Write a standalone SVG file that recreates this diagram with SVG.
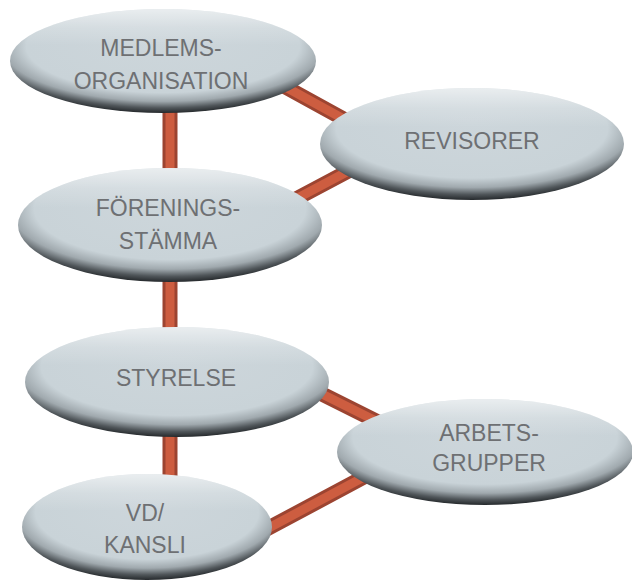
<svg xmlns="http://www.w3.org/2000/svg" width="632" height="581" viewBox="0 0 632 581">
<defs>
<radialGradient id="body" cx="0.5" cy="0.38" r="0.62" fx="0.5" fy="0.3">
<stop offset="0" stop-color="#cdd6db"/>
<stop offset="0.72" stop-color="#c9d3d8"/>
<stop offset="0.84" stop-color="#a0a9ae"/>
<stop offset="0.93" stop-color="#50565a"/>
<stop offset="1" stop-color="#25292c"/>
</radialGradient>
<linearGradient id="shine" x1="0" y1="0" x2="0" y2="1">
<stop offset="0" stop-color="#ffffff" stop-opacity="0.6"/>
<stop offset="0.18" stop-color="#ffffff" stop-opacity="0.2"/>
<stop offset="0.35" stop-color="#ffffff" stop-opacity="0"/>
</linearGradient>
<style>
.node .b{fill:url(#body)}
.node .s{fill:url(#shine)}
.node text{font-family:"Liberation Sans",Arial,sans-serif;font-size:23px;fill:#6e7073;text-anchor:middle}
.edge .o{stroke:#9c4431;stroke-width:15;fill:none}
.edge .i{stroke:#cd5d40;stroke-width:9;fill:none}
</style>
</defs>
<g id="connectors" class="edge">
<path class="o" d="M170,80V250M170,250V400M170,400V520M260,73L380,139M260,218L390,149M280,373L420,443M250,538L420,447"/>
<path class="i" d="M170,80V250M170,250V400M170,400V520M260,73L380,139M260,218L390,149M280,373L420,443M250,538L420,447"/>
</g>
<g id="medlemsorganisation" class="node">
<ellipse class="b" cx="163" cy="61" rx="153" ry="52"/>
<ellipse class="s" cx="163" cy="61" rx="153" ry="52"/>
<text x="161" y="56">MEDLEMS-</text>
<text x="161" y="89">ORGANISATION</text>
</g>
<g id="revisorer" class="node">
<ellipse class="b" cx="472" cy="144" rx="152" ry="56"/>
<ellipse class="s" cx="472" cy="144" rx="152" ry="56"/>
<text x="472" y="149">REVISORER</text>
</g>
<g id="foreningsstamma" class="node">
<ellipse class="b" cx="170" cy="225" rx="152" ry="57"/>
<ellipse class="s" cx="170" cy="225" rx="152" ry="57"/>
<text x="168" y="216">FÖRENINGS-</text>
<text x="168" y="249">STÄMMA</text>
</g>
<g id="styrelse" class="node">
<ellipse class="b" cx="177" cy="382" rx="152" ry="55"/>
<ellipse class="s" cx="177" cy="382" rx="152" ry="55"/>
<text x="176" y="386">STYRELSE</text>
</g>
<g id="arbetsgrupper" class="node">
<ellipse class="b" cx="485" cy="452" rx="148" ry="53"/>
<ellipse class="s" cx="485" cy="452" rx="148" ry="53"/>
<text x="489" y="441">ARBETS-</text>
<text x="489" y="471">GRUPPER</text>
</g>
<g id="vd-kansli" class="node">
<ellipse class="b" cx="147" cy="527" rx="125" ry="53"/>
<ellipse class="s" cx="147" cy="527" rx="125" ry="53"/>
<text x="145" y="521">VD/</text>
<text x="145" y="553">KANSLI</text>
</g>
</svg>
